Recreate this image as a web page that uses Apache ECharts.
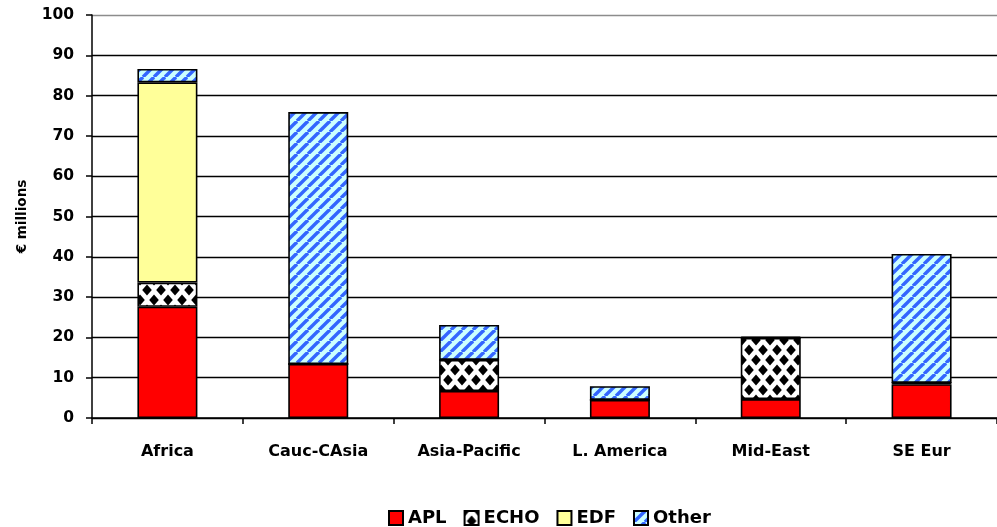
<!DOCTYPE html>
<html>
<head>
<meta charset="utf-8">
<script src="https://cdn.jsdelivr.net/npm/echarts@6/dist/echarts.min.js"></script>
<style>
  html, body { margin: 0; padding: 0; background: #fff; }
  #chart { width: 997px; height: 527px; }
</style>
</head>
<body>
<div id="chart"></div>
<script>
// Regions on the x axis
const categories = ['Africa', 'Cauc-CAsia', 'Asia-Pacific', 'L. America', 'Mid-East', 'SE Eur'];

// Funding by source, € millions
const apl   = [27.6, 13.4, 6.7, 4.5, 4.7, 8.4];
const echo  = [6.0, 0, 7.7, 0, 15.2, 0.3];
const edf   = [49.7, 0, 0, 0, 0, 0];
const other = [3.3, 62.5, 8.7, 3.4, 0.2, 32.0];

const yTicks = { min: 0, max: 100, interval: 10 };

// Black diamonds on white, offset every other row
function diamondPattern() {
  const w = 14, h = 20;
  const c = document.createElement('canvas');
  c.width = w; c.height = h;
  const g = c.getContext('2d');
  g.fillStyle = '#fff';
  g.fillRect(0, 0, w, h);
  g.fillStyle = '#000';
  const rx = 4.8, ry = 5.6;
  const centers = [[7, 10], [0, 0], [w, 0], [0, h], [w, h]];
  centers.forEach(([x, y]) => {
    g.beginPath();
    g.moveTo(x, y - ry);
    g.lineTo(x + rx, y);
    g.lineTo(x, y + ry);
    g.lineTo(x - rx, y);
    g.closePath();
    g.fill();
  });
  return c;
}

// Blue diagonal stripes on pale cyan
function stripePattern() {
  const s = 11;
  const c = document.createElement('canvas');
  c.width = s; c.height = s;
  const g = c.getContext('2d');
  g.fillStyle = '#ccffff';
  g.fillRect(0, 0, s, s);
  g.strokeStyle = '#3366ff';
  g.lineWidth = 3.4;
  [-s, 0, s].forEach((dx) => {
    g.beginPath();
    g.moveTo(dx, s);
    g.lineTo(dx + s, 0);
    g.stroke();
  });
  return c;
}

const font = 'DejaVu Sans';
const border = { borderColor: '#000', borderWidth: 1.6 };

function barSeries(name, data, color) {
  return {
    name,
    type: 'bar',
    stack: 'total',
    data,
    barWidth: 60,
    itemStyle: Object.assign({ color }, border),
    emphasis: { disabled: true }
  };
}

const gridColors = Array(10).fill('#000').concat(['#8c8c8c']);

const chart = echarts.init(document.getElementById('chart'), null, { renderer: 'canvas' });
chart.setOption({
  animation: false,
  backgroundColor: '#fff',
  grid: { left: 92, right: 0, top: 15, bottom: 109, containLabel: false },
  legend: {
    left: 383,
    top: 504,
    itemWidth: 14,
    itemHeight: 14,
    itemGap: 17,
    icon: 'rect',
    textStyle: { fontFamily: font, fontWeight: 'bold', fontSize: 18, color: '#000' },
    data: ['APL', 'ECHO', 'EDF', 'Other']
  },
  xAxis: {
    type: 'category',
    data: categories,
    axisLine: { lineStyle: { color: '#000', width: 1.5 } },
    axisTick: { show: true, length: 6, inside: false, alignWithLabel: false, lineStyle: { color: '#000', width: 1.5 } },
    axisLabel: { margin: 26, fontFamily: font, fontWeight: 'bold', fontSize: 16, color: '#000' }
  },
  yAxis: {
    type: 'value',
    min: yTicks.min,
    max: yTicks.max,
    interval: yTicks.interval,
    name: '€ millions',
    nameLocation: 'middle',
    nameGap: 63,
    nameRotate: 90,
    nameTextStyle: { fontFamily: font, fontWeight: 'bold', fontSize: 13.5, color: '#000' },
    axisLine: { show: true, lineStyle: { color: '#000', width: 1.5 } },
    axisTick: { show: true, length: 6, lineStyle: { color: '#000', width: 1.5 } },
    axisLabel: { margin: 18, fontFamily: font, fontWeight: 'bold', fontSize: 15.5, color: '#000' },
    splitLine: { show: true, lineStyle: { color: gridColors, width: 1.3 } }
  },
  series: [
    barSeries('APL', apl, '#ff0000'),
    barSeries('ECHO', echo, { image: diamondPattern(), repeat: 'repeat' }),
    barSeries('EDF', edf, '#ffff99'),
    barSeries('Other', other, { image: stripePattern(), repeat: 'repeat' })
  ]
});
</script>
</body>
</html>
